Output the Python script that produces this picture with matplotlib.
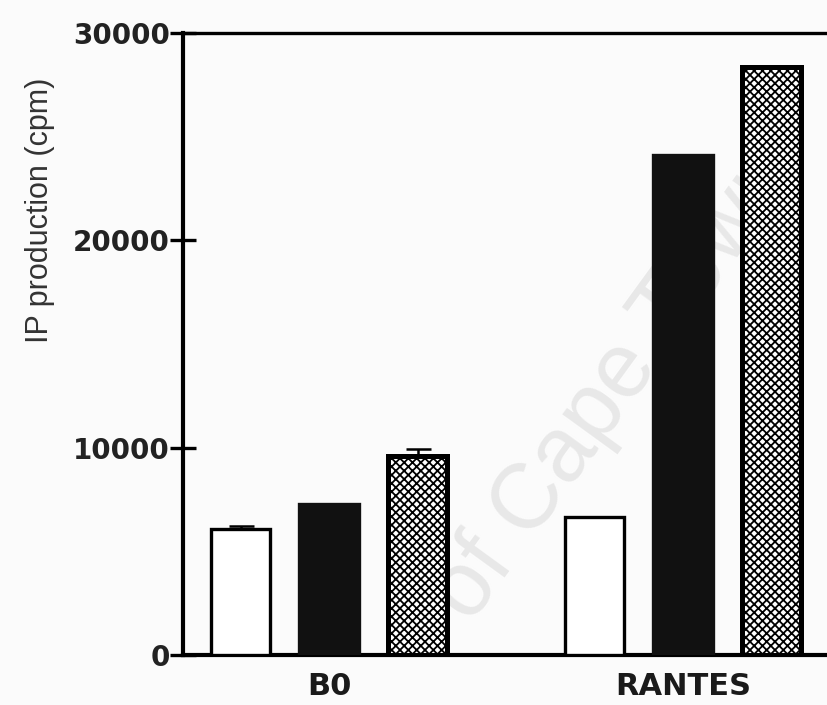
import matplotlib
matplotlib.use("Agg")
import matplotlib.pyplot as plt
import numpy as np

# values (cpm)
groups = ["B0", "RANTES"]
white_vals = [6100, 6650]
black_vals = [7300, 24100]
hatch_vals = [9620, 28360]
white_err = [120, 0]
black_err = [0, 0]
hatch_err = [300, 0]

plt.rcParams['hatch.linewidth'] = 1.3

fig = plt.figure(figsize=(8.27, 7.05), dpi=100, facecolor='#fbfbfb')
ax = fig.add_axes([183 / 827, 1 - 655 / 705, (845 - 183) / 827, (655 - 33) / 705])
ax.set_facecolor('none')

x = np.arange(len(groups))
off = 0.25
w = 0.168

ax.bar(x - off, white_vals, w, color='white', edgecolor='black', linewidth=2.4, zorder=3)
ax.bar(x, black_vals, w, color='#111111', edgecolor='#111111', linewidth=2.4, zorder=3)
ax.bar(x + off, hatch_vals, w, color='white', edgecolor='black', hatch='xxxx',
       linewidth=3.6, zorder=3)

for pos, vals, errs in [(x - off, white_vals, white_err), (x, black_vals, black_err),
                        (x + off, hatch_vals, hatch_err)]:
    errs = np.array(errs)
    m = errs > 0
    if m.any():
        ax.errorbar(pos[m], np.array(vals)[m], yerr=[np.zeros(m.sum()), errs[m]],
                    fmt='none', ecolor='black', elinewidth=1.8, capsize=9, capthick=1.8,
                    zorder=2)

ax.set_ylim(0, 30000)
ax.set_xlim((183 - 329) / 354, (845 - 329) / 354)
ax.set_yticks([0, 10000, 20000, 30000])
ax.set_xticks(x)
ax.set_xticklabels(groups, fontfamily='DejaVu Sans', fontweight='bold', fontsize=22,
                   color='#1a1a1a')
for lab in ax.get_yticklabels():
    lab.set_fontfamily('DejaVu Sans')
    lab.set_fontweight('bold')
    lab.set_fontsize(20)
    lab.set_color('#222222')

ax.tick_params(axis='y', direction='inout', length=19, width=2.4, pad=0)
ax.tick_params(axis='x', length=0, pad=12)

for side in ['left', 'bottom']:
    ax.spines[side].set_linewidth(3.0)
ax.spines['top'].set_linewidth(2.4)
ax.spines['right'].set_visible(False)

fig.text(40 / 827, 1 - 210 / 705, "IP production (cpm)", rotation=90, ha='center',
         va='center', fontfamily='Liberation Sans', fontsize=22, color='#333333')

# faint watermark behind the plot
fig.text(615 / 827, 1 - 385 / 705, "of Cape Town", rotation=54,
         rotation_mode='anchor', ha='center', va='center', fontfamily='Liberation Sans',
         fontsize=66, color='#e8e8e8', zorder=-1)

fig.savefig("out.png", dpi=100, facecolor=fig.get_facecolor())
